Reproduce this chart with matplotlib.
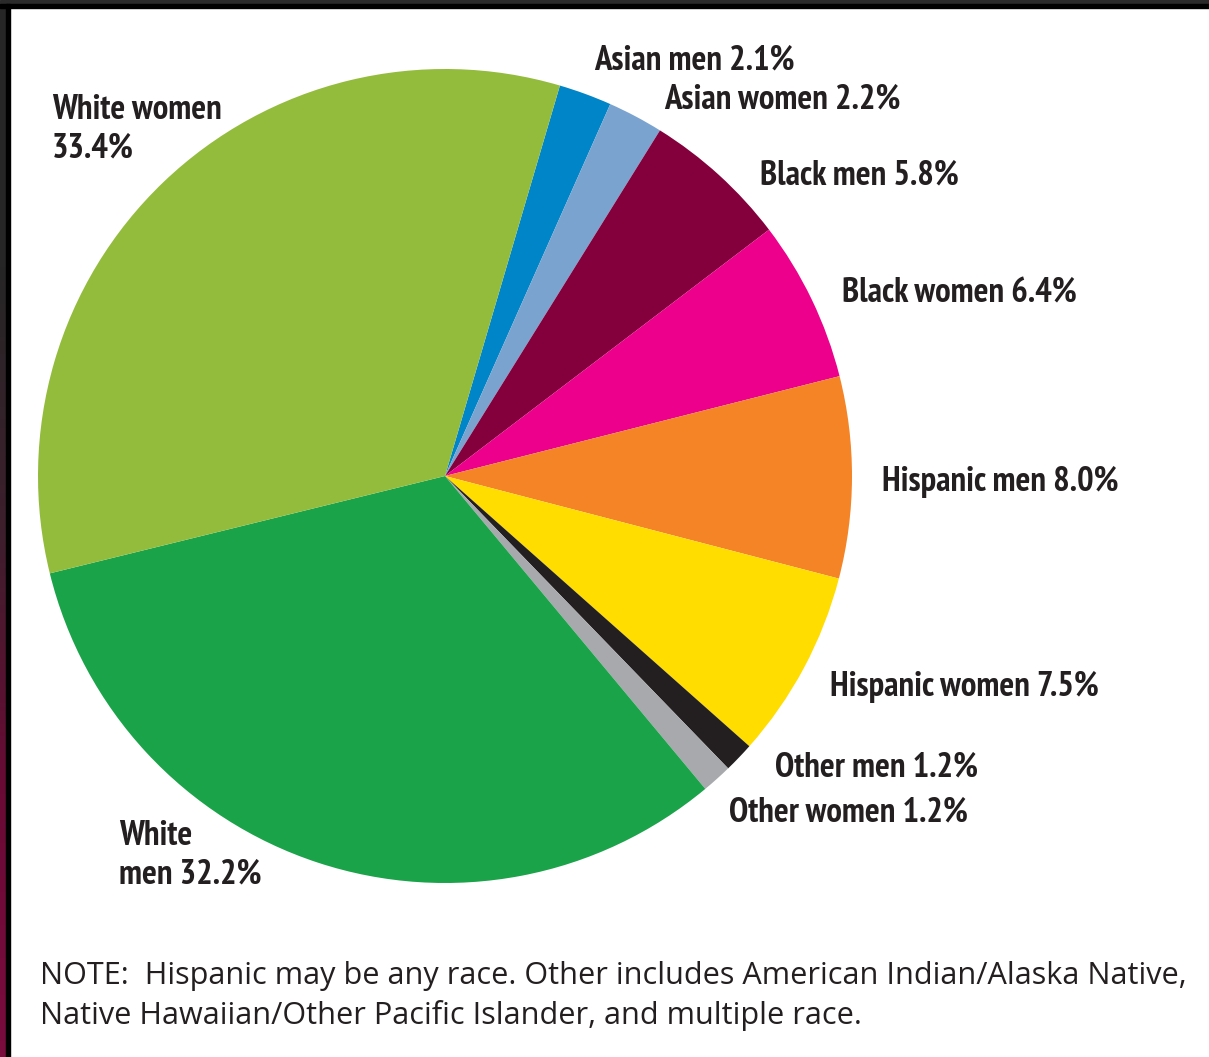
import numpy as np
import matplotlib.pyplot as plt
from matplotlib.colors import LinearSegmentedColormap
from matplotlib.patches import Rectangle

groups = ["Asian men", "Asian women", "Black men", "Black women",
          "Hispanic men", "Hispanic women", "Other men", "Other women",
          "White men", "White women"]
shares = [2.1, 2.2, 5.8, 6.4, 8.0, 7.5, 1.2, 1.2, 32.2, 33.4]
colors = ["#0085C8", "#7BA3CF", "#83003C", "#EC008C", "#F58426",
          "#FFDD00", "#231F20", "#A7A9AC", "#1BA34A", "#93BC3C"]

# label text and where it sits (pixel coords, top-left origin)
label_text = ["Asian men 2.1%", "Asian women 2.2%", "Black men 5.8%",
              "Black women 6.4%", "Hispanic men 8.0%", "Hispanic women 7.5%",
              "Other men 1.2%", "Other women 1.2%", "White\nmen 32.2%",
              "White women\n33.4%"]
label_pos = [(594, 60), (664, 99), (760, 175), (842, 293), (882, 482),
             (830, 687), (775, 767), (729, 812), (119, 855), (52, 129)]

note = ("NOTE:  Hispanic may be any race. Other includes American Indian/Alaska Native,\n"
        "Native Hawaiian/Other Pacific Islander, and multiple race.")

W, H = 1209, 1057
fig = plt.figure(figsize=(W / 100, H / 100), dpi=100)
ax = fig.add_axes([0, 0, 1, 1])

ax.pie(shares, colors=colors, startangle=73.6, counterclock=False,
       center=(445, H - 476), radius=407, frame=True,
       wedgeprops=dict(linewidth=0))
ax.set_aspect("auto")
ax.axis("off")

txt_color = "#231F20"
lab_font = ["PT Sans Narrow", "Open Sans Condensed", "DejaVu Sans"]
for t, (x, y) in zip(label_text, label_pos):
    ax.text(x, H - y, t, ha="left", va="center", fontsize=25,
            fontweight="bold", family=lab_font, color=txt_color,
            linespacing=1.24)

ax.text(40, H - 996, note, ha="left", va="center", fontsize=22.1,
        family=["Open Sans", "DejaVu Sans"], color=txt_color,
        linespacing=1.37)

# frame: dark top strip, dark-to-maroon left strip
ax.add_patch(Rectangle((0, H - 4), W, 4, color="#2a2a2a", zorder=5))
ax.add_patch(Rectangle((0, H - 8), W, 4, color="black", zorder=5))
cmap = LinearSegmentedColormap.from_list(
    "edge", ["#262626", "#262626", "#3d1f2c", "#6a0a35", "#7a0c3e"])
grad = np.linspace(0, 1, 256).reshape(-1, 1)
ax.imshow(grad, cmap=cmap, extent=(0, 6, 0, H - 4), origin="upper",
          aspect="auto", zorder=4)
ax.add_patch(Rectangle((6, 0), 4, H - 4, color="black", zorder=5))
ax.set_xlim(0, W)
ax.set_ylim(0, H)

fig.savefig("out.png", dpi=100)
